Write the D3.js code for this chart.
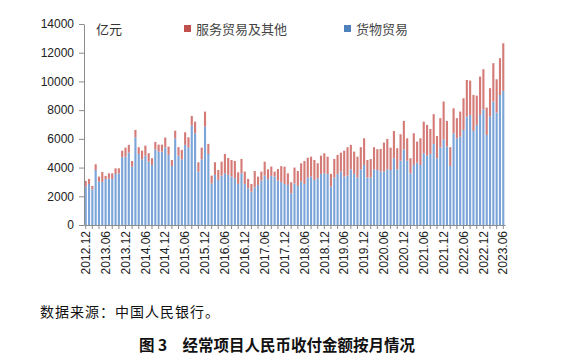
<!DOCTYPE html>
<html>
<head>
<meta charset="utf-8">
<script src="https://cdn.jsdelivr.net/npm/d3@7"></script>
<style>
    body { margin: 0; background: #fff; }
    svg { display: block; }
</style>
</head>
<body>
<svg id="chart" width="573" height="360"></svg>
<script>
// months 2012.12 .. 2023.06
const months = [];
for (let y = 2012, m = 12; y < 2023 || (y === 2023 && m <= 6); ) {
    months.push(y + "." + String(m).padStart(2, "0"));
    m++;
    if (m > 12) { m = 1; y++; }
}

// 货物贸易 (亿元)
const goods = [
    2670, 2860, 2490, 3830, 3020, 3000, 3200, 3230, 3200, 3550, 3600, 4710, 4760,
    5040, 4060, 6110, 4950, 4580, 4830, 4410, 4180, 5270, 5110, 5110, 5410,
    4880, 4110, 6040, 4830, 4580, 5580, 5410, 6920, 6390, 3720, 4580, 6850,
    4950, 2900, 3490, 3140, 3440, 3600, 3490, 3370, 3260, 2860, 3600, 2860,
    2560, 2320, 2630, 2790, 3090, 3440, 3190, 3420, 3370, 3100, 3000, 2860,
    2790, 2210, 2900, 2720, 3020, 2860, 3300, 3370, 3140, 3260, 3560, 3600,
    3560, 2670, 3300, 3560, 3720, 3370, 3440, 3880, 3560, 3300, 3880, 4180,
    3300, 3300, 3880, 3830, 3720, 3720, 3880, 3830, 4650, 3880, 4480, 5270,
    4480, 3600, 4180, 4340, 4180, 5000, 4830, 4950, 5640, 4650, 5390, 5970,
    5460, 4110, 6390, 6040, 6150, 6620, 7550, 7670, 6550, 6970, 7670, 8060,
    6270, 7550, 8600, 7830, 9060, 9340
];

// 服务贸易及其他 (亿元)
const services = [
    400, 350, 230, 400, 350, 690, 220, 370, 400, 400, 350, 470, 630,
    540, 400, 510, 470, 600, 700, 590, 470, 520, 490, 490, 680,
    580, 420, 530, 590, 650, 880, 700, 680, 810, 650, 810, 1050,
    700, 540, 880, 690, 970, 1350, 1180, 1160, 1200, 810, 1000, 860,
    650, 540, 1130, 580, 630, 970, 690, 650, 350, 800, 1100, 1200,
    810, 770, 1100, 1040, 1280, 1600, 1390, 1390, 1390, 1040, 1270, 1400,
    1200, 890, 1300, 1320, 1320, 1810, 1980, 1700, 1550, 1460, 1540, 1860,
    1230, 1300, 1540, 1450, 1580, 2020, 2110, 1560, 1900, 1470, 1840, 1980,
    1560, 1050, 2210, 1470, 1860, 2200, 2140, 1740, 2080, 1550, 2050, 2630,
    1790, 1310, 1740, 1400, 1750, 2210, 2550, 2390, 2510, 2040, 2670, 2790,
    1910, 1980, 2670, 2320, 2560, 3320
];

const yTicks = [0, 2000, 4000, 6000, 8000, 10000, 12000, 14000];

// thin bars look lighter than the legend swatches in the original
const BLUE = "#7ba4d8";
const RED = "#d47b78";

let svg = d3.select("#chart");
let x0 = 84, x1 = 505, yTop = 24, yBottom = 225;

let x_scale = d3.scaleBand()
    .domain(months)
    .range([x0, x1])
    .paddingInner(0.36)
    .paddingOuter(0.2);

let y_scale = d3.scaleLinear()
    .domain([0, 14000])
    .range([yBottom, yTop]);

// bars
let g = svg.append("g");
months.forEach((m, i) => {
    g.append("rect")
        .attr("x", x_scale(m))
        .attr("width", x_scale.bandwidth())
        .attr("y", y_scale(goods[i]))
        .attr("height", y_scale(0) - y_scale(goods[i]))
        .attr("fill", BLUE);
    g.append("rect")
        .attr("x", x_scale(m))
        .attr("width", x_scale.bandwidth())
        .attr("y", y_scale(goods[i] + services[i]))
        .attr("height", y_scale(goods[i]) - y_scale(goods[i] + services[i]))
        .attr("fill", RED);
});

// y axis
let yAxis = svg.append("g")
    .attr("transform", `translate(${x0},0)`)
    .call(d3.axisLeft(y_scale).tickValues(yTicks).tickSize(5).tickSizeOuter(0).tickFormat(d3.format("d")));
yAxis.selectAll("text")
    .attr("font-family", "Liberation Sans, Arial, sans-serif")
    .attr("font-size", "12px")
    .attr("fill", "#222")
    .attr("dx", "-2");

// x axis: tick marks every 2 months, labels every 6
let xAxis = svg.append("g")
    .attr("transform", `translate(0,${yBottom})`)
    .call(d3.axisBottom(x_scale)
        .tickValues(months.filter((d, i) => i % 2 === 0))
        .tickSize(4)
        .tickSizeOuter(0)
        .tickFormat((d) => months.indexOf(d) % 6 === 0 ? d : ""));
xAxis.selectAll("text")
    .attr("font-family", "Liberation Sans, Arial, sans-serif")
    .attr("font-size", "12px")
    .attr("fill", "#222")
    .attr("transform", "rotate(-90)")
    .attr("text-anchor", "end")
    .attr("x", -6)
    .attr("y", 0)
    .attr("dy", "0.35em");

svg.selectAll(".domain, .tick line").attr("stroke", "#8c8c8c");

// unit
svg.append("text")
    .attr("x", 96)
    .attr("y", 34)
    .attr("font-family", "Noto Sans CJK SC")
    .attr("font-size", "13px")
    .attr("fill", "#333")
    .text("亿元");

// legend
let legend = [
    {name: "服务贸易及其他", color: "#c0504d", x: 184},
    {name: "货物贸易", color: "#4f81bd", x: 344},
];
legend.forEach(d => {
    svg.append("rect")
        .attr("x", d.x)
        .attr("y", 25)
        .attr("width", 7)
        .attr("height", 7)
        .attr("fill", d.color);
    svg.append("text")
        .attr("x", d.x + 12)
        .attr("y", 34)
        .attr("font-family", "Noto Sans CJK SC")
        .attr("font-size", "13px")
        .attr("fill", "#444")
        .text(d.name);
});

// source note
svg.append("text")
    .attr("x", 40)
    .attr("y", 317)
    .attr("font-family", "Noto Sans CJK SC")
    .attr("font-size", "14px")
    .attr("letter-spacing", "1px")
    .attr("fill", "#111")
    .text("数据来源：中国人民银行。");

// caption
svg.append("text")
    .attr("x", 277)
    .attr("y", 351)
    .attr("text-anchor", "middle")
    .attr("font-family", "Noto Sans CJK SC")
    .attr("font-size", "15.5px")
    .attr("font-weight", "bold")
    .attr("fill", "#111")
    .text("图 3　经常项目人民币收付金额按月情况");
</script>
</body>
</html>
